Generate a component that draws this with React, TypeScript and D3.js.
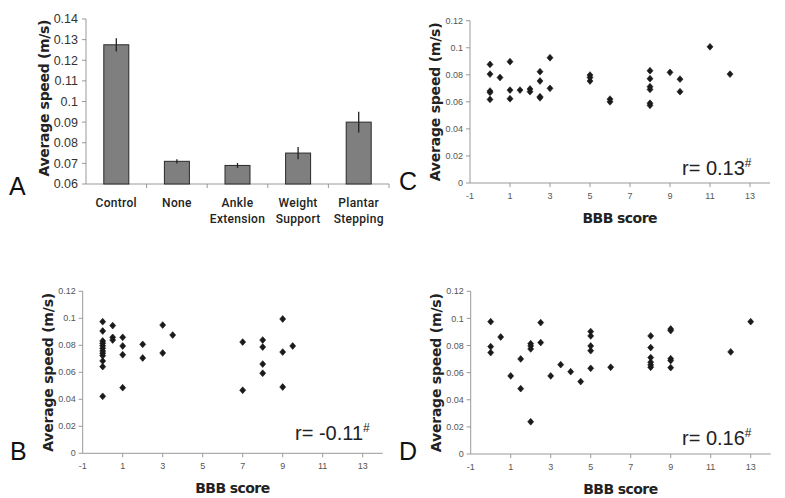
import React, { useEffect, useRef } from 'react';
import * as d3 from 'd3';

// panel A: mean speed per locomotor group
const groupLines = [['Control'], ['None'], ['Ankle', 'Extension'], ['Weight', 'Support'], ['Plantar', 'Stepping']];
const groupMeans = [0.1275, 0.071, 0.069, 0.075, 0.09];
const groupErrors = [0.0032, 0.001, 0.0012, 0.003, 0.005];
const barTicks = [0.06, 0.07, 0.08, 0.09, 0.1, 0.11, 0.12, 0.13, 0.14];

// panel B
const bbbB = [0, 0, 0, 0, 0, 0, 0, 0, 0, 0, 0, 0, 0.5, 0.5, 0.5, 1, 1, 1, 1, 2, 2, 3, 3, 3.5, 7, 7, 8, 8, 8, 8, 9, 9, 9, 9.5];
const speedB = [0.0975, 0.0906, 0.0832, 0.0815, 0.0797, 0.0778, 0.0758, 0.0741, 0.0723, 0.0684, 0.0642, 0.0422,
  0.0946, 0.0859, 0.0839, 0.0859, 0.0795, 0.073, 0.0486, 0.0807, 0.0706, 0.095, 0.0743, 0.0876,
  0.0824, 0.0467, 0.0839, 0.0787, 0.0661, 0.0593, 0.0995, 0.075, 0.0491, 0.0795];

// panel C
const bbbC = [0, 0, 0, 0, 0, 0.5, 1, 1, 1, 1.5, 2, 2, 2.5, 2.5, 2.5, 2.5, 3, 3, 5, 5, 5, 6, 6, 8, 8, 8, 8, 8, 8, 9, 9.5, 9.5, 11, 12];
const speedC = [0.0877, 0.0805, 0.068, 0.067, 0.0618, 0.078, 0.0897, 0.0687, 0.0623, 0.0687, 0.0695, 0.0675,
  0.0823, 0.0754, 0.0638, 0.063, 0.0926, 0.07, 0.0798, 0.078, 0.0754, 0.062, 0.06,
  0.083, 0.0771, 0.0712, 0.0692, 0.059, 0.0574, 0.0818, 0.0768, 0.0675, 0.1007, 0.0805];

// panel D
const bbbD = [0, 0, 0, 0.5, 1, 1.5, 1.5, 2, 2, 2, 2, 2.5, 2.5, 3, 3.5, 4, 4.5, 5, 5, 5, 5, 5, 6, 8, 8, 8, 8, 8, 8, 9, 9, 9, 9, 9, 12, 13];
const speedD = [0.0976, 0.0792, 0.0748, 0.0863, 0.0576, 0.0701, 0.0482, 0.0814, 0.0797, 0.0775, 0.0238, 0.0969, 0.0822,
  0.0576, 0.0659, 0.0607, 0.0534, 0.0903, 0.0871, 0.0797, 0.0762, 0.0632, 0.064,
  0.0871, 0.0785, 0.0711, 0.0677, 0.0657, 0.064, 0.0922, 0.091, 0.0703, 0.0689, 0.0637, 0.0753, 0.0976];

const scatterYTicks = [0, 0.02, 0.04, 0.06, 0.08, 0.1, 0.12];
const scatterXTicks = [-1, 1, 3, 5, 7, 9, 11, 13];

const AXIS = '#999';
const TXT = '#333';

export default function App() {
  const ref = useRef<SVGSVGElement>(null);

  useEffect(() => {
    document.body.style.margin = '0';
    const svg = d3.select(ref.current);
    svg.selectAll('*').remove();

    // ---------- panel A (bars) ----------
    const x = d3.scaleBand().domain(groupLines.map((d, i) => String(i))).range([86, 389]);
    const y = d3.scaleLinear().domain([0.06, 0.14]).range([184, 19]);
    const gA = svg.append('g');

    gA.append('line').attr('x1', 86).attr('x2', 86).attr('y1', y(0.14)).attr('y2', y(0.06)).attr('stroke', AXIS);
    gA.append('line').attr('x1', 86).attr('x2', 389).attr('y1', y(0.06)).attr('y2', y(0.06)).attr('stroke', AXIS);
    barTicks.forEach(t => {
      gA.append('line').attr('x1', 82).attr('x2', 86).attr('y1', y(t)).attr('y2', y(t)).attr('stroke', AXIS);
      gA.append('text').attr('x', 78).attr('y', y(t)).attr('dy', '0.35em').attr('text-anchor', 'end')
        .attr('font-size', 12.5).attr('fill', TXT).attr('font-family', 'Liberation Sans, Arial, sans-serif')
        .text(String(t));
    });
    groupLines.forEach((_, i) => {
      const xb = (x(String(i)) as number) + x.bandwidth();
      gA.append('line').attr('x1', xb).attr('x2', xb).attr('y1', y(0.06)).attr('y2', y(0.06) + 4).attr('stroke', AXIS);
    });
    const bw = 25;
    groupMeans.forEach((m, i) => {
      const cx = (x(String(i)) as number) + x.bandwidth() / 2;
      gA.append('rect').attr('x', cx - bw / 2).attr('y', y(m)).attr('width', bw).attr('height', y(0.06) - y(m))
        .attr('fill', '#7f7f7f').attr('stroke', '#2a2a2a').attr('stroke-width', 1);
      gA.append('line').attr('x1', cx).attr('x2', cx).attr('y1', y(m + groupErrors[i])).attr('y2', y(m - groupErrors[i]))
        .attr('stroke', '#222').attr('stroke-width', 1.3);
      groupLines[i].forEach((ln, k) => {
        gA.append('text').attr('x', cx).attr('y', 207 + k * 16).attr('text-anchor', 'middle')
          .attr('font-size', 12).attr('fill', '#222').attr('font-weight', 500).attr('letter-spacing', 0.3)
          .attr('font-family', 'Roboto, Liberation Sans, sans-serif').text(ln);
      });
    });
    gA.append('text').attr('transform', `translate(44,98) rotate(-90)`).attr('text-anchor', 'middle')
      .attr('dominant-baseline', 'central').attr('font-size', 14).attr('font-weight', 'bold').attr('fill', '#222')
      .attr('font-family', 'DejaVu Sans, sans-serif').attr('textLength', 157).attr('lengthAdjust', 'spacing')
      .text('Average speed (m/s)');
    gA.append('text').attr('x', 9).attr('y', 195).attr('font-size', 25).attr('fill', '#111')
      .attr('font-family', 'Liberation Sans, Arial, sans-serif').text('A');

    // ---------- scatter panels ----------
    const panels = [
      { xs: bbbC, ys: speedC, x0: 470, y0: 183, y1: 20.7, lab: 'C', lx: 399, ly: 190, r: '0.13', rx: 682, ry: 175 },
      { xs: bbbB, ys: speedB, x0: 82.7, y0: 453.3, y1: 291.3, lab: 'B', lx: 10, ly: 460, r: '-0.11', rx: 295, ry: 440 },
      { xs: bbbD, ys: speedD, x0: 470.7, y0: 454, y1: 291.3, lab: 'D', lx: 399, ly: 460, r: '0.16', rx: 682, ry: 445 },
    ];
    const marker = 'M0,-3.4L3,0L0,3.4L-3,0Z';

    panels.forEach(p => {
      const g = svg.append('g');
      const sx = d3.scaleLinear().domain([-1, 14]).range([p.x0, p.x0 + 300]);
      const sy = d3.scaleLinear().domain([0, 0.12]).range([p.y0, p.y1]);

      g.append('line').attr('x1', p.x0).attr('x2', p.x0).attr('y1', sy(0.12)).attr('y2', sy(0)).attr('stroke', AXIS);
      g.append('line').attr('x1', p.x0).attr('x2', sx(14)).attr('y1', sy(0)).attr('y2', sy(0)).attr('stroke', AXIS);
      scatterYTicks.forEach(t => {
        g.append('line').attr('x1', p.x0 - 4).attr('x2', p.x0).attr('y1', sy(t)).attr('y2', sy(t)).attr('stroke', AXIS);
        g.append('text').attr('x', p.x0 - 7).attr('y', sy(t)).attr('dy', '0.35em').attr('text-anchor', 'end')
          .attr('font-size', 9).attr('fill', '#555').attr('font-family', 'Liberation Sans Narrow, Liberation Sans, sans-serif')
          .text(String(t));
      });
      scatterXTicks.forEach(t => {
        if (t > -1) g.append('line').attr('x1', sx(t)).attr('x2', sx(t)).attr('y1', sy(0)).attr('y2', sy(0) + 4).attr('stroke', AXIS);
        g.append('text').attr('x', sx(t)).attr('y', sy(0) + 16).attr('text-anchor', 'middle')
          .attr('font-size', 9).attr('fill', '#555').attr('font-family', 'Liberation Sans Narrow, Liberation Sans, sans-serif')
          .text(String(t));
      });
      g.selectAll('path.pt').data(p.xs).join('path')
        .attr('transform', (d, i) => `translate(${sx(d)},${sy(p.ys[i])})`)
        .attr('d', marker).attr('fill', '#1a1a1a').attr('stroke', '#1a1a1a').attr('stroke-width', 0.6);

      g.append('text').attr('x', p.x0 + 150).attr('y', sy(0) + 40).attr('text-anchor', 'middle')
        .attr('font-size', 14).attr('font-weight', 'bold').attr('fill', '#222')
        .attr('font-family', 'DejaVu Sans, sans-serif').attr('textLength', 75).attr('lengthAdjust', 'spacing')
        .text('BBB score');
      g.append('text').attr('transform', `translate(${p.x0 - 35},${(sy(0) + sy(0.12)) / 2}) rotate(-90)`)
        .attr('text-anchor', 'middle').attr('dominant-baseline', 'central')
        .attr('font-size', 14).attr('font-weight', 'bold').attr('fill', '#222')
        .attr('font-family', 'DejaVu Sans, sans-serif').attr('textLength', 159).attr('lengthAdjust', 'spacing')
        .text('Average speed (m/s)');
      const rt = g.append('text').attr('x', p.rx).attr('y', p.ry).attr('font-size', 20).attr('fill', '#222')
        .attr('font-family', 'Liberation Sans, Arial, sans-serif');
      rt.append('tspan').text(`r= ${p.r}`);
      rt.append('tspan').attr('dy', -8).attr('font-size', 12).text('#');
      g.append('text').attr('x', p.lx).attr('y', p.ly).attr('font-size', 25).attr('fill', '#111')
        .attr('font-family', 'Liberation Sans, Arial, sans-serif').text(p.lab);
    });
  }, []);

  return <svg ref={ref} width={785} height={498} style={{ display: 'block', background: '#fff' }} />;
}
